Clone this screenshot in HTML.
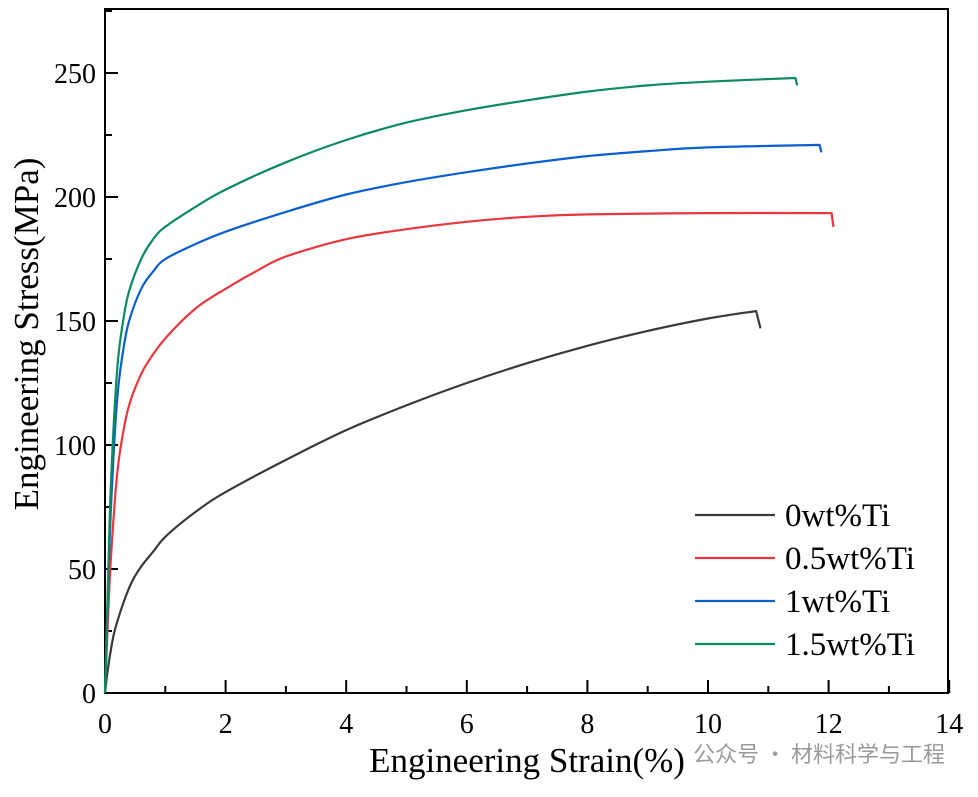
<!DOCTYPE html>
<html><head><meta charset="utf-8"><style>
body{margin:0;background:#fff}
svg text{font-family:"Liberation Serif","Noto Serif CJK SC",serif}
</style></head><body>
<svg id="c" width="978" height="792" xmlns="http://www.w3.org/2000/svg">
<rect x="105" y="9" width="843" height="684" fill="none" stroke="#000" stroke-width="2"/>
<g id="ticks"></g>
<g id="series"></g>
<text x="527" y="772" font-size="35" text-anchor="middle">Engineering Strain(%)</text>
<text transform="translate(38,334) rotate(-90)" font-size="35" text-anchor="middle">Engineering Stress(MPa)</text>
<g id="legend"></g>
<text x="945" y="762" font-size="22" fill="#9a9a9a" text-anchor="end" style="font-family:'Noto Sans CJK SC',sans-serif">公众号 · 材料科学与工程</text>
</svg>
<script>
const xTicks=[0,2,4,6,8,10,12,14];
const yTicks=[0,50,100,150,200,250];
const seriesNames=["0wt%Ti","0.5wt%Ti","1wt%Ti","1.5wt%Ti"];
const seriesColors=["#3a3a3a","#e8383d","#0a5fd0","#0c8c5a"];
const s0x=[0,0.05,0.15,0.3,0.45,0.6,0.8,1,1.5,2,3,4,5,6,7,8,9,10,10.8,10.87];
const s0y=[0,10,24,36,45,51,57,63,73,81,94,106,116,125,133,140,146,151,154,147];
const s1x=[0,0.05,0.1,0.2,0.3,0.4,0.55,0.7,1,1.5,2,2.5,3,4,5,6,7,8,10,12.05,12.08];
const s1y=[0,30,55,88,105,116,126,133,143,155,163,170,176,183,187,190,192,193,193.5,193.5,188];
const s2x=[0,0.05,0.1,0.2,0.3,0.4,0.6,0.8,1,1.5,2,3,4,5,6,7,8,9,10,11.85,11.88];
const s2y=[0,40,75,118,138,150,163,170,175,181,186,194,201,206,210,213.5,216.5,218.5,220,221,218];
const s3x=[0,0.05,0.1,0.2,0.3,0.4,0.6,0.8,1,1.5,2,3,4,5,6,7,8,9,10,11.45,11.48];
const s3y=[0,45,85,130,150,162,175,183,188,196,203,214,223,230,235,239,242.5,245,246.5,248,245];
const X=v=>105+v*60.3, Y=v=>693-v*2.48;
const NS="http://www.w3.org/2000/svg";
function mk(t,a,p){const e=document.createElementNS(NS,t);for(const k in a)e.setAttribute(k,a[k]);p.appendChild(e);return e;}
function smooth(px,py){
 const n=px.length;let d='M'+px[0].toFixed(1)+','+py[0].toFixed(1);
 for(let i=0;i<n-1;i++){
  if(i===n-2){d+='L'+px[i+1].toFixed(1)+','+py[i+1].toFixed(1);continue;}
  const p0=i?i-1:i,p3=(i+2<n-1)?i+2:i+1;
  const c1x=px[i]+(px[i+1]-px[p0])/6,c1y=py[i]+(py[i+1]-py[p0])/6;
  const c2x=px[i+1]-(px[p3]-px[i])/6,c2y=py[i+1]-(py[p3]-py[i])/6;
  d+='C'+c1x.toFixed(1)+','+c1y.toFixed(1)+' '+c2x.toFixed(1)+','+c2y.toFixed(1)+' '+px[i+1].toFixed(1)+','+py[i+1].toFixed(1);
 }
 return d;
}
const tg=document.getElementById('ticks');
xTicks.forEach(v=>{
 const l=mk('line',{x1:X(v),x2:X(v),y1:693,y2:680,stroke:'#000','stroke-width':2},tg);
 
 
 const m=mk('line',{x1:X(v+1),x2:X(v+1),y1:693,y2:686,stroke:'#000','stroke-width':2},tg);
 
 
 const t=mk('text',{x:X(v),y:733,'font-size':28,'text-anchor':'middle'},tg);t.textContent=v;
 
 
});
yTicks.forEach(v=>{
 const l=mk('line',{x1:105,x2:118,y1:Y(v),y2:Y(v),stroke:'#000','stroke-width':2},tg);
 
 
 const m=mk('line',{x1:105,x2:112,y1:Y(v+25),y2:Y(v+25),stroke:'#000','stroke-width':2},tg);
 
 
 const t=mk('text',{x:96,y:Y(v)+10,'font-size':28,'text-anchor':'end'},tg);t.textContent=v;
 
 
});
const sg=document.getElementById('series'), lg=document.getElementById('legend');
[[s0x,s0y],[s1x,s1y],[s2x,s2y],[s3x,s3y]].forEach((s,i)=>{
 const d=smooth(s[0].map(X),s[1].map(Y));
 const p=mk('path',{d:d,fill:'none',stroke:seriesColors[i],'stroke-width':2.2,'stroke-linejoin':'round'},sg);
 
 
 const ly=515+i*43;
 const ll=mk('line',{x1:695,x2:775,y1:ly,y2:ly,stroke:seriesColors[i],'stroke-width':2.2},lg);
 
 
 const lt=mk('text',{x:785,y:ly+11,'font-size':33},lg);lt.textContent=seriesNames[i];
 
 
});
</script>
</body></html>
